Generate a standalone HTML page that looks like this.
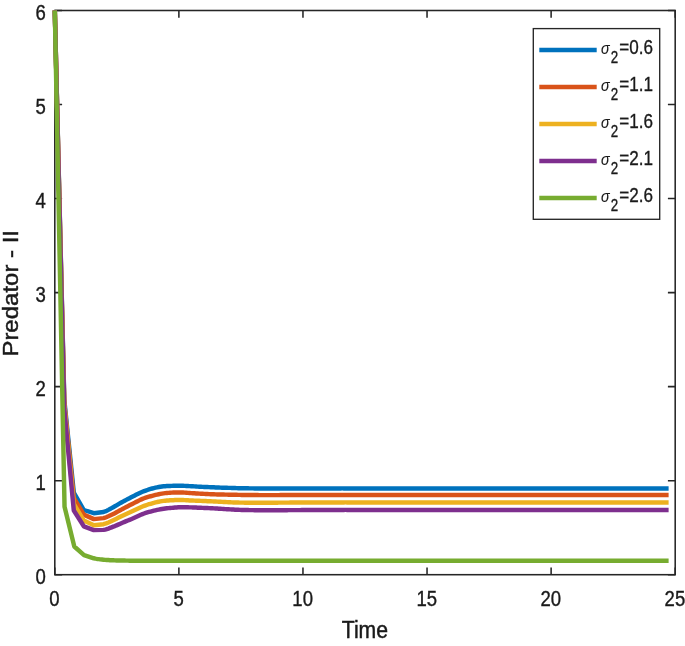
<!DOCTYPE html><html><head><meta charset="utf-8"><title>Predator - II vs Time</title>
<style>html,body{margin:0;padding:0;background:#fff;}svg{display:block;}text{font-family:"Liberation Sans",Arial,Helvetica,sans-serif;fill:#1a1a1a;}</style></head><body>
<svg width="685" height="646" viewBox="0 0 685 646">
<rect x="0" y="0" width="685" height="646" fill="#fff"/>
<rect x="54.80" y="10.50" width="620.40" height="564.20" fill="none" stroke="#262626" stroke-width="1.55"/>
<path d="M54.80 574.70v-7.30M54.80 10.50v7.30M178.88 574.70v-7.30M178.88 10.50v7.30M302.96 574.70v-7.30M302.96 10.50v7.30M427.04 574.70v-7.30M427.04 10.50v7.30M551.12 574.70v-7.30M551.12 10.50v7.30M675.20 574.70v-7.30M675.20 10.50v7.30M54.80 574.70h7.30M675.20 574.70h-7.30M54.80 480.67h7.30M675.20 480.67h-7.30M54.80 386.63h7.30M675.20 386.63h-7.30M54.80 292.60h7.30M675.20 292.60h-7.30M54.80 198.57h7.30M675.20 198.57h-7.30M54.80 104.53h7.30M675.20 104.53h-7.30M54.80 10.50h7.30M675.20 10.50h-7.30" stroke="#262626" stroke-width="1.55" fill="none"/>
<polyline points="54.80,10.50 64.30,400.00 73.80,492.50 83.80,510.00 93.80,513.20 103.52,512.00 105.14,511.42 106.76,510.70 108.38,509.88 110.01,508.99 111.63,508.09 113.26,507.20 114.88,506.31 116.51,505.37 118.13,504.42 119.75,503.46 121.38,502.51 123.00,501.60 124.62,500.72 126.25,499.85 127.87,498.99 129.50,498.15 131.12,497.32 132.74,496.50 134.37,495.68 135.99,494.85 137.62,494.04 139.24,493.25 140.86,492.50 142.49,491.80 144.11,491.15 145.73,490.55 147.36,489.98 148.98,489.45 150.61,488.96 152.23,488.50 153.85,488.08 155.48,487.69 157.10,487.33 158.73,487.02 160.35,486.74 161.97,486.50 163.60,486.31 165.22,486.16 166.84,486.05 168.47,485.97 170.09,485.91 171.72,485.85 173.34,485.80 174.96,485.77 176.59,485.76 178.21,485.76 179.84,485.78 181.46,485.80 183.08,485.84 184.71,485.89 186.33,485.96 187.95,486.04 189.58,486.12 191.20,486.20 192.83,486.29 194.45,486.39 196.07,486.50 197.70,486.61 199.32,486.71 200.94,486.80 202.57,486.88 204.19,486.95 205.82,487.01 207.44,487.07 209.06,487.14 210.69,487.20 212.31,487.27 213.94,487.34 215.56,487.41 217.18,487.47 218.81,487.54 220.43,487.60 222.05,487.66 223.68,487.71 225.30,487.76 226.93,487.80 228.55,487.85 230.17,487.90 231.80,487.95 233.42,488.01 235.05,488.06 236.67,488.11 238.29,488.16 239.92,488.20 241.54,488.23 243.16,488.26 244.79,488.29 246.41,488.31 248.04,488.33 249.66,488.35 251.28,488.37 252.91,488.39 254.53,488.41 256.16,488.42 257.78,488.44 259.40,488.45 261.03,488.46 262.65,488.47 264.27,488.48 265.90,488.49 267.52,488.50 269.15,488.50 270.77,488.50 272.39,488.51 274.02,488.51 275.64,488.51 277.27,488.50 278.89,488.50 280.51,488.49 282.14,488.49 283.76,488.48 285.38,488.47 287.01,488.46 288.63,488.45 290.26,488.45 291.88,488.44 293.50,488.44 295.13,488.44 296.75,488.44 298.38,488.44 300.00,488.44 301.62,488.44 303.25,488.44 304.87,488.44 306.49,488.43 308.12,488.43 309.74,488.43 311.37,488.43 312.99,488.43 314.61,488.43 316.24,488.43 317.86,488.42 319.48,488.42 321.11,488.42 322.73,488.42 324.36,488.42 325.98,488.42 327.60,488.42 329.23,488.42 330.85,488.41 332.48,488.41 334.10,488.41 335.72,488.41 337.35,488.41 338.97,488.41 340.59,488.41 342.22,488.40 343.84,488.40 345.47,488.40 347.09,488.40 348.71,488.40 350.34,488.40 351.96,488.40 353.59,488.40 355.21,488.40 356.83,488.40 358.46,488.40 360.08,488.40 361.70,488.40 363.33,488.40 364.95,488.40 366.58,488.40 368.20,488.40 369.82,488.40 371.45,488.40 373.07,488.40 374.70,488.40 376.32,488.40 377.94,488.40 379.57,488.40 381.19,488.40 382.81,488.40 384.44,488.40 386.06,488.40 387.69,488.40 389.31,488.40 390.93,488.40 392.56,488.40 394.18,488.40 395.81,488.40 397.43,488.40 399.05,488.40 400.68,488.40 402.30,488.40 403.92,488.40 405.55,488.40 407.17,488.40 408.80,488.40 410.42,488.40 412.04,488.40 413.67,488.40 415.29,488.40 416.91,488.40 418.54,488.40 420.16,488.40 421.79,488.40 423.41,488.40 425.03,488.40 426.66,488.40 428.28,488.40 429.91,488.40 431.53,488.40 433.15,488.40 434.78,488.40 436.40,488.40 438.02,488.40 439.65,488.40 441.27,488.40 442.90,488.40 444.52,488.40 446.14,488.40 447.77,488.40 449.39,488.40 451.02,488.40 452.64,488.40 454.26,488.40 455.89,488.40 457.51,488.40 459.13,488.40 460.76,488.40 462.38,488.40 464.01,488.40 465.63,488.40 467.25,488.40 468.88,488.40 470.50,488.40 472.13,488.40 473.75,488.40 475.37,488.40 477.00,488.40 478.62,488.40 480.24,488.40 481.87,488.40 483.49,488.40 485.12,488.40 486.74,488.40 488.36,488.40 489.99,488.40 491.61,488.40 493.24,488.40 494.86,488.40 496.48,488.40 498.11,488.40 499.73,488.40 501.35,488.40 502.98,488.40 504.60,488.40 506.23,488.40 507.85,488.40 509.47,488.40 511.10,488.40 512.72,488.40 514.34,488.40 515.97,488.40 517.59,488.40 519.22,488.40 520.84,488.40 522.46,488.40 524.09,488.40 525.71,488.40 527.34,488.40 528.96,488.40 530.58,488.40 532.21,488.40 533.83,488.40 535.45,488.40 537.08,488.40 538.70,488.40 540.33,488.40 541.95,488.40 543.57,488.40 545.20,488.40 546.82,488.40 548.45,488.40 550.07,488.40 551.69,488.40 553.32,488.40 554.94,488.40 556.56,488.40 558.19,488.40 559.81,488.40 561.44,488.40 563.06,488.40 564.68,488.40 566.31,488.40 567.93,488.40 569.56,488.40 571.18,488.40 572.80,488.40 574.43,488.40 576.05,488.40 577.67,488.40 579.30,488.40 580.92,488.40 582.55,488.40 584.17,488.40 585.79,488.40 587.42,488.40 589.04,488.40 590.66,488.40 592.29,488.40 593.91,488.40 595.54,488.40 597.16,488.40 598.78,488.40 600.41,488.40 602.03,488.40 603.66,488.40 605.28,488.40 606.90,488.40 608.53,488.40 610.15,488.40 611.77,488.40 613.40,488.40 615.02,488.40 616.65,488.40 618.27,488.40 619.89,488.40 621.52,488.40 623.14,488.40 624.77,488.40 626.39,488.40 628.01,488.40 629.64,488.40 631.26,488.40 632.88,488.40 634.51,488.40 636.13,488.40 637.76,488.40 639.38,488.40 641.00,488.40 642.63,488.40 644.25,488.40 645.88,488.40 647.50,488.40 649.12,488.40 650.75,488.40 652.37,488.40 653.99,488.40 655.62,488.40 657.24,488.40 658.87,488.40 660.60,488.40 662.47,488.40 664.35,488.40 666.08,488.40 667.55,488.40 668.61,488.40" fill="none" stroke="#0072BD" stroke-width="4.45" stroke-linejoin="round" stroke-linecap="butt"/>
<polyline points="54.80,10.50 64.30,403.00 73.80,497.80 83.80,514.60 93.80,519.10 103.52,518.10 105.14,517.61 106.76,517.01 108.38,516.32 110.01,515.57 111.63,514.79 113.26,514.00 114.88,513.18 116.51,512.31 118.13,511.41 119.75,510.49 121.38,509.58 123.00,508.70 124.62,507.85 126.25,507.00 127.87,506.17 129.50,505.34 131.12,504.52 132.74,503.70 134.37,502.87 135.99,502.02 137.62,501.18 139.24,500.37 140.86,499.60 142.49,498.90 144.11,498.27 145.73,497.71 147.36,497.19 148.98,496.70 150.61,496.24 152.23,495.80 153.85,495.37 155.48,494.95 157.10,494.57 158.73,494.21 160.35,493.88 161.97,493.60 163.60,493.36 165.22,493.16 166.84,493.00 168.47,492.86 170.09,492.75 171.72,492.65 173.34,492.57 174.96,492.51 176.59,492.48 178.21,492.46 179.84,492.47 181.46,492.50 183.08,492.56 184.71,492.64 186.33,492.75 187.95,492.87 189.58,492.99 191.20,493.10 192.83,493.20 194.45,493.30 196.07,493.41 197.70,493.51 199.32,493.61 200.94,493.70 202.57,493.79 204.19,493.88 205.82,493.97 207.44,494.05 209.06,494.13 210.69,494.20 212.31,494.26 213.94,494.32 215.56,494.37 217.18,494.41 218.81,494.46 220.43,494.50 222.05,494.54 223.68,494.57 225.30,494.61 226.93,494.64 228.55,494.67 230.17,494.70 231.80,494.73 233.42,494.77 235.05,494.81 236.67,494.84 238.29,494.87 239.92,494.90 241.54,494.92 243.16,494.94 244.79,494.96 246.41,494.97 248.04,494.98 249.66,495.00 251.28,495.02 252.91,495.04 254.53,495.06 256.16,495.07 257.78,495.09 259.40,495.10 261.03,495.11 262.65,495.11 264.27,495.11 265.90,495.10 267.52,495.10 269.15,495.10 270.77,495.10 272.39,495.10 274.02,495.10 275.64,495.10 277.27,495.10 278.89,495.10 280.51,495.09 282.14,495.09 283.76,495.08 285.38,495.07 287.01,495.06 288.63,495.05 290.26,495.05 291.88,495.04 293.50,495.04 295.13,495.04 296.75,495.04 298.38,495.04 300.00,495.04 301.62,495.04 303.25,495.04 304.87,495.04 306.49,495.03 308.12,495.03 309.74,495.03 311.37,495.03 312.99,495.03 314.61,495.03 316.24,495.03 317.86,495.02 319.48,495.02 321.11,495.02 322.73,495.02 324.36,495.02 325.98,495.02 327.60,495.02 329.23,495.02 330.85,495.01 332.48,495.01 334.10,495.01 335.72,495.01 337.35,495.01 338.97,495.01 340.59,495.01 342.22,495.00 343.84,495.00 345.47,495.00 347.09,495.00 348.71,495.00 350.34,495.00 351.96,495.00 353.59,495.00 355.21,495.00 356.83,495.00 358.46,495.00 360.08,495.00 361.70,495.00 363.33,495.00 364.95,495.00 366.58,495.00 368.20,495.00 369.82,495.00 371.45,495.00 373.07,495.00 374.70,495.00 376.32,495.00 377.94,495.00 379.57,495.00 381.19,495.00 382.81,495.00 384.44,495.00 386.06,495.00 387.69,495.00 389.31,495.00 390.93,495.00 392.56,495.00 394.18,495.00 395.81,495.00 397.43,495.00 399.05,495.00 400.68,495.00 402.30,495.00 403.92,495.00 405.55,495.00 407.17,495.00 408.80,495.00 410.42,495.00 412.04,495.00 413.67,495.00 415.29,495.00 416.91,495.00 418.54,495.00 420.16,495.00 421.79,495.00 423.41,495.00 425.03,495.00 426.66,495.00 428.28,495.00 429.91,495.00 431.53,495.00 433.15,495.00 434.78,495.00 436.40,495.00 438.02,495.00 439.65,495.00 441.27,495.00 442.90,495.00 444.52,495.00 446.14,495.00 447.77,495.00 449.39,495.00 451.02,495.00 452.64,495.00 454.26,495.00 455.89,495.00 457.51,495.00 459.13,495.00 460.76,495.00 462.38,495.00 464.01,495.00 465.63,495.00 467.25,495.00 468.88,495.00 470.50,495.00 472.13,495.00 473.75,495.00 475.37,495.00 477.00,495.00 478.62,495.00 480.24,495.00 481.87,495.00 483.49,495.00 485.12,495.00 486.74,495.00 488.36,495.00 489.99,495.00 491.61,495.00 493.24,495.00 494.86,495.00 496.48,495.00 498.11,495.00 499.73,495.00 501.35,495.00 502.98,495.00 504.60,495.00 506.23,495.00 507.85,495.00 509.47,495.00 511.10,495.00 512.72,495.00 514.34,495.00 515.97,495.00 517.59,495.00 519.22,495.00 520.84,495.00 522.46,495.00 524.09,495.00 525.71,495.00 527.34,495.00 528.96,495.00 530.58,495.00 532.21,495.00 533.83,495.00 535.45,495.00 537.08,495.00 538.70,495.00 540.33,495.00 541.95,495.00 543.57,495.00 545.20,495.00 546.82,495.00 548.45,495.00 550.07,495.00 551.69,495.00 553.32,495.00 554.94,495.00 556.56,495.00 558.19,495.00 559.81,495.00 561.44,495.00 563.06,495.00 564.68,495.00 566.31,495.00 567.93,495.00 569.56,495.00 571.18,495.00 572.80,495.00 574.43,495.00 576.05,495.00 577.67,495.00 579.30,495.00 580.92,495.00 582.55,495.00 584.17,495.00 585.79,495.00 587.42,495.00 589.04,495.00 590.66,495.00 592.29,495.00 593.91,495.00 595.54,495.00 597.16,495.00 598.78,495.00 600.41,495.00 602.03,495.00 603.66,495.00 605.28,495.00 606.90,495.00 608.53,495.00 610.15,495.00 611.77,495.00 613.40,495.00 615.02,495.00 616.65,495.00 618.27,495.00 619.89,495.00 621.52,495.00 623.14,495.00 624.77,495.00 626.39,495.00 628.01,495.00 629.64,495.00 631.26,495.00 632.88,495.00 634.51,495.00 636.13,495.00 637.76,495.00 639.38,495.00 641.00,495.00 642.63,495.00 644.25,495.00 645.88,495.00 647.50,495.00 649.12,495.00 650.75,495.00 652.37,495.00 653.99,495.00 655.62,495.00 657.24,495.00 658.87,495.00 660.60,495.00 662.47,495.00 664.35,495.00 666.08,495.00 667.55,495.00 668.61,495.00" fill="none" stroke="#D95319" stroke-width="4.45" stroke-linejoin="round" stroke-linecap="butt"/>
<polyline points="54.80,10.50 64.30,405.00 73.80,503.80 83.80,520.60 93.80,525.30 103.52,524.20 105.14,523.71 106.76,523.11 108.38,522.43 110.01,521.70 111.63,520.95 113.26,520.20 114.88,519.44 116.51,518.64 118.13,517.83 119.75,517.00 121.38,516.19 123.00,515.40 124.62,514.64 126.25,513.91 127.87,513.18 129.50,512.46 131.12,511.73 132.74,511.00 134.37,510.24 135.99,509.46 137.62,508.67 139.24,507.91 140.86,507.18 142.49,506.50 144.11,505.88 145.73,505.30 147.36,504.76 148.98,504.24 150.61,503.76 152.23,503.30 153.85,502.86 155.48,502.44 157.10,502.05 158.73,501.70 160.35,501.38 161.97,501.10 163.60,500.87 165.22,500.69 166.84,500.55 168.47,500.44 170.09,500.34 171.72,500.25 173.34,500.16 174.96,500.09 176.59,500.04 178.21,500.01 179.84,499.99 181.46,500.00 183.08,500.04 184.71,500.11 186.33,500.21 187.95,500.31 189.58,500.41 191.20,500.50 192.83,500.57 194.45,500.64 196.07,500.71 197.70,500.77 199.32,500.83 200.94,500.90 202.57,500.97 204.19,501.03 205.82,501.09 207.44,501.16 209.06,501.23 210.69,501.30 212.31,501.38 213.94,501.46 215.56,501.54 217.18,501.63 218.81,501.72 220.43,501.80 222.05,501.89 223.68,501.97 225.30,502.06 226.93,502.15 228.55,502.23 230.17,502.30 231.80,502.36 233.42,502.42 235.05,502.48 236.67,502.52 238.29,502.56 239.92,502.60 241.54,502.63 243.16,502.65 244.79,502.67 246.41,502.68 248.04,502.69 249.66,502.70 251.28,502.71 252.91,502.71 254.53,502.71 256.16,502.70 257.78,502.70 259.40,502.70 261.03,502.70 262.65,502.70 264.27,502.70 265.90,502.70 267.52,502.70 269.15,502.70 270.77,502.69 272.39,502.69 274.02,502.68 275.64,502.67 277.27,502.66 278.89,502.65 280.51,502.64 282.14,502.63 283.76,502.62 285.38,502.62 287.01,502.61 288.63,502.60 290.26,502.59 291.88,502.59 293.50,502.58 295.13,502.58 296.75,502.57 298.38,502.57 300.00,502.56 301.62,502.56 303.25,502.55 304.87,502.54 306.49,502.54 308.12,502.53 309.74,502.53 311.37,502.52 312.99,502.52 314.61,502.51 316.24,502.51 317.86,502.50 319.48,502.49 321.11,502.49 322.73,502.48 324.36,502.48 325.98,502.47 327.60,502.47 329.23,502.46 330.85,502.46 332.48,502.45 334.10,502.44 335.72,502.44 337.35,502.43 338.97,502.43 340.59,502.42 342.22,502.41 343.84,502.41 345.47,502.40 347.09,502.40 348.71,502.40 350.34,502.40 351.96,502.40 353.59,502.40 355.21,502.40 356.83,502.40 358.46,502.40 360.08,502.40 361.70,502.40 363.33,502.40 364.95,502.40 366.58,502.40 368.20,502.40 369.82,502.40 371.45,502.40 373.07,502.40 374.70,502.40 376.32,502.40 377.94,502.40 379.57,502.40 381.19,502.40 382.81,502.40 384.44,502.40 386.06,502.40 387.69,502.40 389.31,502.40 390.93,502.40 392.56,502.40 394.18,502.40 395.81,502.40 397.43,502.40 399.05,502.40 400.68,502.40 402.30,502.40 403.92,502.40 405.55,502.40 407.17,502.40 408.80,502.40 410.42,502.40 412.04,502.40 413.67,502.40 415.29,502.40 416.91,502.40 418.54,502.40 420.16,502.40 421.79,502.40 423.41,502.40 425.03,502.40 426.66,502.40 428.28,502.40 429.91,502.40 431.53,502.40 433.15,502.40 434.78,502.40 436.40,502.40 438.02,502.40 439.65,502.40 441.27,502.40 442.90,502.40 444.52,502.40 446.14,502.40 447.77,502.40 449.39,502.40 451.02,502.40 452.64,502.40 454.26,502.40 455.89,502.40 457.51,502.40 459.13,502.40 460.76,502.40 462.38,502.40 464.01,502.40 465.63,502.40 467.25,502.40 468.88,502.40 470.50,502.40 472.13,502.40 473.75,502.40 475.37,502.40 477.00,502.40 478.62,502.40 480.24,502.40 481.87,502.40 483.49,502.40 485.12,502.40 486.74,502.40 488.36,502.40 489.99,502.40 491.61,502.40 493.24,502.40 494.86,502.40 496.48,502.40 498.11,502.40 499.73,502.40 501.35,502.40 502.98,502.40 504.60,502.40 506.23,502.40 507.85,502.40 509.47,502.40 511.10,502.40 512.72,502.40 514.34,502.40 515.97,502.40 517.59,502.40 519.22,502.40 520.84,502.40 522.46,502.40 524.09,502.40 525.71,502.40 527.34,502.40 528.96,502.40 530.58,502.40 532.21,502.40 533.83,502.40 535.45,502.40 537.08,502.40 538.70,502.40 540.33,502.40 541.95,502.40 543.57,502.40 545.20,502.40 546.82,502.40 548.45,502.40 550.07,502.40 551.69,502.40 553.32,502.40 554.94,502.40 556.56,502.40 558.19,502.40 559.81,502.40 561.44,502.40 563.06,502.40 564.68,502.40 566.31,502.40 567.93,502.40 569.56,502.40 571.18,502.40 572.80,502.40 574.43,502.40 576.05,502.40 577.67,502.40 579.30,502.40 580.92,502.40 582.55,502.40 584.17,502.40 585.79,502.40 587.42,502.40 589.04,502.40 590.66,502.40 592.29,502.40 593.91,502.40 595.54,502.40 597.16,502.40 598.78,502.40 600.41,502.40 602.03,502.40 603.66,502.40 605.28,502.40 606.90,502.40 608.53,502.40 610.15,502.40 611.77,502.40 613.40,502.40 615.02,502.40 616.65,502.40 618.27,502.40 619.89,502.40 621.52,502.40 623.14,502.40 624.77,502.40 626.39,502.40 628.01,502.40 629.64,502.40 631.26,502.40 632.88,502.40 634.51,502.40 636.13,502.40 637.76,502.40 639.38,502.40 641.00,502.40 642.63,502.40 644.25,502.40 645.88,502.40 647.50,502.40 649.12,502.40 650.75,502.40 652.37,502.40 653.99,502.40 655.62,502.40 657.24,502.40 658.87,502.40 660.60,502.40 662.47,502.40 664.35,502.40 666.08,502.40 667.55,502.40 668.61,502.40" fill="none" stroke="#EDB120" stroke-width="4.45" stroke-linejoin="round" stroke-linecap="butt"/>
<polyline points="54.80,10.50 64.30,409.00 73.80,510.50 83.80,526.30 93.80,530.10 103.52,529.90 105.14,529.55 106.76,529.09 108.38,528.55 110.01,527.95 111.63,527.33 113.26,526.70 114.88,526.06 116.51,525.37 118.13,524.65 119.75,523.92 121.38,523.20 123.00,522.50 124.62,521.83 126.25,521.17 127.87,520.51 129.50,519.86 131.12,519.19 132.74,518.50 134.37,517.77 135.99,517.01 137.62,516.24 139.24,515.48 140.86,514.76 142.49,514.10 144.11,513.51 145.73,512.96 147.36,512.46 148.98,511.98 150.61,511.53 152.23,511.10 153.85,510.69 155.48,510.30 157.10,509.93 158.73,509.60 160.35,509.28 161.97,509.00 163.60,508.75 165.22,508.53 166.84,508.33 168.47,508.16 170.09,508.00 171.72,507.85 173.34,507.70 174.96,507.56 176.59,507.44 178.21,507.34 179.84,507.25 181.46,507.20 183.08,507.18 184.71,507.20 186.33,507.23 187.95,507.29 189.58,507.35 191.20,507.40 192.83,507.46 194.45,507.52 196.07,507.59 197.70,507.66 199.32,507.73 200.94,507.80 202.57,507.86 204.19,507.93 205.82,507.99 207.44,508.05 209.06,508.12 210.69,508.20 212.31,508.29 213.94,508.39 215.56,508.49 217.18,508.59 218.81,508.70 220.43,508.80 222.05,508.90 223.68,509.00 225.30,509.11 226.93,509.21 228.55,509.31 230.17,509.40 231.80,509.49 233.42,509.59 235.05,509.68 236.67,509.76 238.29,509.84 239.92,509.90 241.54,509.95 243.16,509.99 244.79,510.03 246.41,510.05 248.04,510.08 249.66,510.10 251.28,510.12 252.91,510.14 254.53,510.16 256.16,510.17 257.78,510.19 259.40,510.20 261.03,510.21 262.65,510.22 264.27,510.23 265.90,510.24 267.52,510.25 269.15,510.25 270.77,510.25 272.39,510.24 274.02,510.23 275.64,510.22 277.27,510.21 278.89,510.20 280.51,510.19 282.14,510.18 283.76,510.17 285.38,510.17 287.01,510.16 288.63,510.15 290.26,510.14 291.88,510.14 293.50,510.13 295.13,510.12 296.75,510.12 298.38,510.11 300.00,510.10 301.62,510.09 303.25,510.09 304.87,510.08 306.49,510.07 308.12,510.07 309.74,510.06 311.37,510.05 312.99,510.05 314.61,510.04 316.24,510.03 317.86,510.02 319.48,510.02 321.11,510.01 322.73,510.00 324.36,510.00 325.98,509.99 327.60,509.98 329.23,509.98 330.85,509.97 332.48,509.96 334.10,509.96 335.72,509.95 337.35,509.94 338.97,509.93 340.59,509.93 342.22,509.92 343.84,509.91 345.47,509.90 347.09,509.90 348.71,509.90 350.34,509.90 351.96,509.90 353.59,509.90 355.21,509.90 356.83,509.90 358.46,509.90 360.08,509.90 361.70,509.90 363.33,509.90 364.95,509.90 366.58,509.90 368.20,509.90 369.82,509.90 371.45,509.90 373.07,509.90 374.70,509.90 376.32,509.90 377.94,509.90 379.57,509.90 381.19,509.90 382.81,509.90 384.44,509.90 386.06,509.90 387.69,509.90 389.31,509.90 390.93,509.90 392.56,509.90 394.18,509.90 395.81,509.90 397.43,509.90 399.05,509.90 400.68,509.90 402.30,509.90 403.92,509.90 405.55,509.90 407.17,509.90 408.80,509.90 410.42,509.90 412.04,509.90 413.67,509.90 415.29,509.90 416.91,509.90 418.54,509.90 420.16,509.90 421.79,509.90 423.41,509.90 425.03,509.90 426.66,509.90 428.28,509.90 429.91,509.90 431.53,509.90 433.15,509.90 434.78,509.90 436.40,509.90 438.02,509.90 439.65,509.90 441.27,509.90 442.90,509.90 444.52,509.90 446.14,509.90 447.77,509.90 449.39,509.90 451.02,509.90 452.64,509.90 454.26,509.90 455.89,509.90 457.51,509.90 459.13,509.90 460.76,509.90 462.38,509.90 464.01,509.90 465.63,509.90 467.25,509.90 468.88,509.90 470.50,509.90 472.13,509.90 473.75,509.90 475.37,509.90 477.00,509.90 478.62,509.90 480.24,509.90 481.87,509.90 483.49,509.90 485.12,509.90 486.74,509.90 488.36,509.90 489.99,509.90 491.61,509.90 493.24,509.90 494.86,509.90 496.48,509.90 498.11,509.90 499.73,509.90 501.35,509.90 502.98,509.90 504.60,509.90 506.23,509.90 507.85,509.90 509.47,509.90 511.10,509.90 512.72,509.90 514.34,509.90 515.97,509.90 517.59,509.90 519.22,509.90 520.84,509.90 522.46,509.90 524.09,509.90 525.71,509.90 527.34,509.90 528.96,509.90 530.58,509.90 532.21,509.90 533.83,509.90 535.45,509.90 537.08,509.90 538.70,509.90 540.33,509.90 541.95,509.90 543.57,509.90 545.20,509.90 546.82,509.90 548.45,509.90 550.07,509.90 551.69,509.90 553.32,509.90 554.94,509.90 556.56,509.90 558.19,509.90 559.81,509.90 561.44,509.90 563.06,509.90 564.68,509.90 566.31,509.90 567.93,509.90 569.56,509.90 571.18,509.90 572.80,509.90 574.43,509.90 576.05,509.90 577.67,509.90 579.30,509.90 580.92,509.90 582.55,509.90 584.17,509.90 585.79,509.90 587.42,509.90 589.04,509.90 590.66,509.90 592.29,509.90 593.91,509.90 595.54,509.90 597.16,509.90 598.78,509.90 600.41,509.90 602.03,509.90 603.66,509.90 605.28,509.90 606.90,509.90 608.53,509.90 610.15,509.90 611.77,509.90 613.40,509.90 615.02,509.90 616.65,509.90 618.27,509.90 619.89,509.90 621.52,509.90 623.14,509.90 624.77,509.90 626.39,509.90 628.01,509.90 629.64,509.90 631.26,509.90 632.88,509.90 634.51,509.90 636.13,509.90 637.76,509.90 639.38,509.90 641.00,509.90 642.63,509.90 644.25,509.90 645.88,509.90 647.50,509.90 649.12,509.90 650.75,509.90 652.37,509.90 653.99,509.90 655.62,509.90 657.24,509.90 658.87,509.90 660.60,509.90 662.47,509.90 664.35,509.90 666.08,509.90 667.55,509.90 668.61,509.90" fill="none" stroke="#7E2F8E" stroke-width="4.45" stroke-linejoin="round" stroke-linecap="butt"/>
<polyline points="54.80,10.50 64.54,506.70 74.29,546.50 84.03,555.10 93.77,558.30 95.40,558.65 97.02,558.93 98.64,559.16 100.27,559.36 101.89,559.53 103.51,559.70 105.14,559.85 106.76,559.97 108.39,560.07 110.01,560.16 111.63,560.23 113.26,560.30 114.88,560.36 116.51,560.41 118.13,560.45 119.75,560.49 121.38,560.52 123.00,560.55 124.62,560.58 126.25,560.61 127.87,560.64 129.50,560.66 131.12,560.68 132.74,560.70 134.37,560.71 135.99,560.71 137.62,560.71 139.24,560.71 140.86,560.70 142.49,560.70 144.11,560.70 145.73,560.70 147.36,560.70 148.98,560.70 150.61,560.70 152.23,560.70 153.85,560.70 155.48,560.70 157.10,560.70 158.73,560.70 160.35,560.70 161.97,560.70 163.60,560.70 165.22,560.70 166.84,560.70 168.47,560.70 170.09,560.70 171.72,560.70 173.34,560.70 174.96,560.70 176.59,560.70 178.21,560.70 179.84,560.70 181.46,560.70 183.08,560.70 184.71,560.70 186.33,560.70 187.95,560.70 189.58,560.70 191.20,560.70 192.83,560.70 194.45,560.70 196.07,560.70 197.70,560.70 199.32,560.70 200.94,560.70 202.57,560.70 204.19,560.70 205.82,560.70 207.44,560.70 209.06,560.70 210.69,560.70 212.31,560.70 213.94,560.70 215.56,560.70 217.18,560.70 218.81,560.70 220.43,560.70 222.05,560.70 223.68,560.70 225.30,560.70 226.93,560.70 228.55,560.70 230.17,560.70 231.80,560.70 233.42,560.70 235.05,560.70 236.67,560.70 238.29,560.70 239.92,560.70 241.54,560.70 243.16,560.70 244.79,560.70 246.41,560.70 248.04,560.70 249.66,560.70 251.28,560.70 252.91,560.70 254.53,560.70 256.16,560.70 257.78,560.70 259.40,560.70 261.03,560.70 262.65,560.70 264.27,560.70 265.90,560.70 267.52,560.70 269.15,560.70 270.77,560.70 272.39,560.70 274.02,560.70 275.64,560.70 277.27,560.70 278.89,560.70 280.51,560.70 282.14,560.70 283.76,560.70 285.38,560.70 287.01,560.70 288.63,560.70 290.26,560.70 291.88,560.70 293.50,560.70 295.13,560.70 296.75,560.70 298.38,560.70 300.00,560.70 301.62,560.70 303.25,560.70 304.87,560.70 306.49,560.70 308.12,560.70 309.74,560.70 311.37,560.70 312.99,560.70 314.61,560.70 316.24,560.70 317.86,560.70 319.48,560.70 321.11,560.70 322.73,560.70 324.36,560.70 325.98,560.70 327.60,560.70 329.23,560.70 330.85,560.70 332.48,560.70 334.10,560.70 335.72,560.70 337.35,560.70 338.97,560.70 340.59,560.70 342.22,560.70 343.84,560.70 345.47,560.70 347.09,560.70 348.71,560.70 350.34,560.70 351.96,560.70 353.59,560.70 355.21,560.70 356.83,560.70 358.46,560.70 360.08,560.70 361.70,560.70 363.33,560.70 364.95,560.70 366.58,560.70 368.20,560.70 369.82,560.70 371.45,560.70 373.07,560.70 374.70,560.70 376.32,560.70 377.94,560.70 379.57,560.70 381.19,560.70 382.81,560.70 384.44,560.70 386.06,560.70 387.69,560.70 389.31,560.70 390.93,560.70 392.56,560.70 394.18,560.70 395.81,560.70 397.43,560.70 399.05,560.70 400.68,560.70 402.30,560.70 403.92,560.70 405.55,560.70 407.17,560.70 408.80,560.70 410.42,560.70 412.04,560.70 413.67,560.70 415.29,560.70 416.91,560.70 418.54,560.70 420.16,560.70 421.79,560.70 423.41,560.70 425.03,560.70 426.66,560.70 428.28,560.70 429.91,560.70 431.53,560.70 433.15,560.70 434.78,560.70 436.40,560.70 438.02,560.70 439.65,560.70 441.27,560.70 442.90,560.70 444.52,560.70 446.14,560.70 447.77,560.70 449.39,560.70 451.02,560.70 452.64,560.70 454.26,560.70 455.89,560.70 457.51,560.70 459.13,560.70 460.76,560.70 462.38,560.70 464.01,560.70 465.63,560.70 467.25,560.70 468.88,560.70 470.50,560.70 472.13,560.70 473.75,560.70 475.37,560.70 477.00,560.70 478.62,560.70 480.24,560.70 481.87,560.70 483.49,560.70 485.12,560.70 486.74,560.70 488.36,560.70 489.99,560.70 491.61,560.70 493.24,560.70 494.86,560.70 496.48,560.70 498.11,560.70 499.73,560.70 501.35,560.70 502.98,560.70 504.60,560.70 506.23,560.70 507.85,560.70 509.47,560.70 511.10,560.70 512.72,560.70 514.34,560.70 515.97,560.70 517.59,560.70 519.22,560.70 520.84,560.70 522.46,560.70 524.09,560.70 525.71,560.70 527.34,560.70 528.96,560.70 530.58,560.70 532.21,560.70 533.83,560.70 535.45,560.70 537.08,560.70 538.70,560.70 540.33,560.70 541.95,560.70 543.57,560.70 545.20,560.70 546.82,560.70 548.45,560.70 550.07,560.70 551.69,560.70 553.32,560.70 554.94,560.70 556.56,560.70 558.19,560.70 559.81,560.70 561.44,560.70 563.06,560.70 564.68,560.70 566.31,560.70 567.93,560.70 569.56,560.70 571.18,560.70 572.80,560.70 574.43,560.70 576.05,560.70 577.67,560.70 579.30,560.70 580.92,560.70 582.55,560.70 584.17,560.70 585.79,560.70 587.42,560.70 589.04,560.70 590.66,560.70 592.29,560.70 593.91,560.70 595.54,560.70 597.16,560.70 598.78,560.70 600.41,560.70 602.03,560.70 603.66,560.70 605.28,560.70 606.90,560.70 608.53,560.70 610.15,560.70 611.77,560.70 613.40,560.70 615.02,560.70 616.65,560.70 618.27,560.70 619.89,560.70 621.52,560.70 623.14,560.70 624.77,560.70 626.39,560.70 628.01,560.70 629.64,560.70 631.26,560.70 632.88,560.70 634.51,560.70 636.13,560.70 637.76,560.70 639.38,560.70 641.00,560.70 642.63,560.70 644.25,560.70 645.88,560.70 647.50,560.70 649.12,560.70 650.75,560.70 652.37,560.70 653.99,560.70 655.62,560.70 657.24,560.70 658.87,560.70 660.60,560.70 662.47,560.70 664.35,560.70 666.08,560.70 667.55,560.70 668.61,560.70" fill="none" stroke="#77AC30" stroke-width="4.45" stroke-linejoin="round" stroke-linecap="butt"/>
<g transform="scale(0.843,1)" stroke="#1a1a1a" stroke-width="0.4">
<text x="64.65" y="606.3" font-size="22.0" text-anchor="middle">0</text>
<text x="211.84" y="606.3" font-size="22.0" text-anchor="middle">5</text>
<text x="359.03" y="606.3" font-size="22.0" text-anchor="middle">10</text>
<text x="506.22" y="606.3" font-size="22.0" text-anchor="middle">15</text>
<text x="653.40" y="606.3" font-size="22.0" text-anchor="middle">20</text>
<text x="800.59" y="606.3" font-size="22.0" text-anchor="middle">25</text>
<text x="54.45" y="584.30" font-size="22.0" text-anchor="end">0</text>
<text x="54.45" y="490.27" font-size="22.0" text-anchor="end">1</text>
<text x="54.45" y="396.23" font-size="22.0" text-anchor="end">2</text>
<text x="54.45" y="302.20" font-size="22.0" text-anchor="end">3</text>
<text x="54.45" y="208.17" font-size="22.0" text-anchor="end">4</text>
<text x="54.45" y="114.13" font-size="22.0" text-anchor="end">5</text>
<text x="54.45" y="20.10" font-size="22.0" text-anchor="end">6</text>
</g>
<g transform="scale(0.890,1)" stroke="#1a1a1a" stroke-width="0.5">
<text x="410.00" y="637.7" font-size="23.8" text-anchor="middle">Time</text>
<text transform="translate(19.89,293.3) rotate(-90)" font-size="24.0" text-anchor="middle">Predator - II</text>
</g>
<rect x="533.3" y="28.6" width="126.4" height="190.7" fill="#fff" stroke="#262626" stroke-width="1.35"/>
<line x1="539.3" x2="596.7" y1="50.00" y2="50.00" stroke="#0072BD" stroke-width="4.3"/>
<line x1="539.3" x2="596.7" y1="87.00" y2="87.00" stroke="#D95319" stroke-width="4.3"/>
<line x1="539.3" x2="596.7" y1="124.00" y2="124.00" stroke="#EDB120" stroke-width="4.3"/>
<line x1="539.3" x2="596.7" y1="161.00" y2="161.00" stroke="#7E2F8E" stroke-width="4.3"/>
<line x1="539.3" x2="596.7" y1="198.00" y2="198.00" stroke="#77AC30" stroke-width="4.3"/>
<g transform="scale(0.843,1)" stroke="#1a1a1a" stroke-width="0.35">
<text x="712.93" y="53.60" font-size="17" font-style="italic" stroke-width="0.1">σ</text>
<text x="724.56" y="63.10" font-size="15.8">2</text>
<text x="734.64" y="54.00" font-size="20.3">=0.6</text>
<text x="712.93" y="90.60" font-size="17" font-style="italic" stroke-width="0.1">σ</text>
<text x="724.56" y="100.10" font-size="15.8">2</text>
<text x="734.64" y="91.00" font-size="20.3">=1.1</text>
<text x="712.93" y="127.60" font-size="17" font-style="italic" stroke-width="0.1">σ</text>
<text x="724.56" y="137.10" font-size="15.8">2</text>
<text x="734.64" y="128.00" font-size="20.3">=1.6</text>
<text x="712.93" y="164.60" font-size="17" font-style="italic" stroke-width="0.1">σ</text>
<text x="724.56" y="174.10" font-size="15.8">2</text>
<text x="734.64" y="165.00" font-size="20.3">=2.1</text>
<text x="712.93" y="201.60" font-size="17" font-style="italic" stroke-width="0.1">σ</text>
<text x="724.56" y="211.10" font-size="15.8">2</text>
<text x="734.64" y="202.00" font-size="20.3">=2.6</text>
</g>
</svg></body></html>
